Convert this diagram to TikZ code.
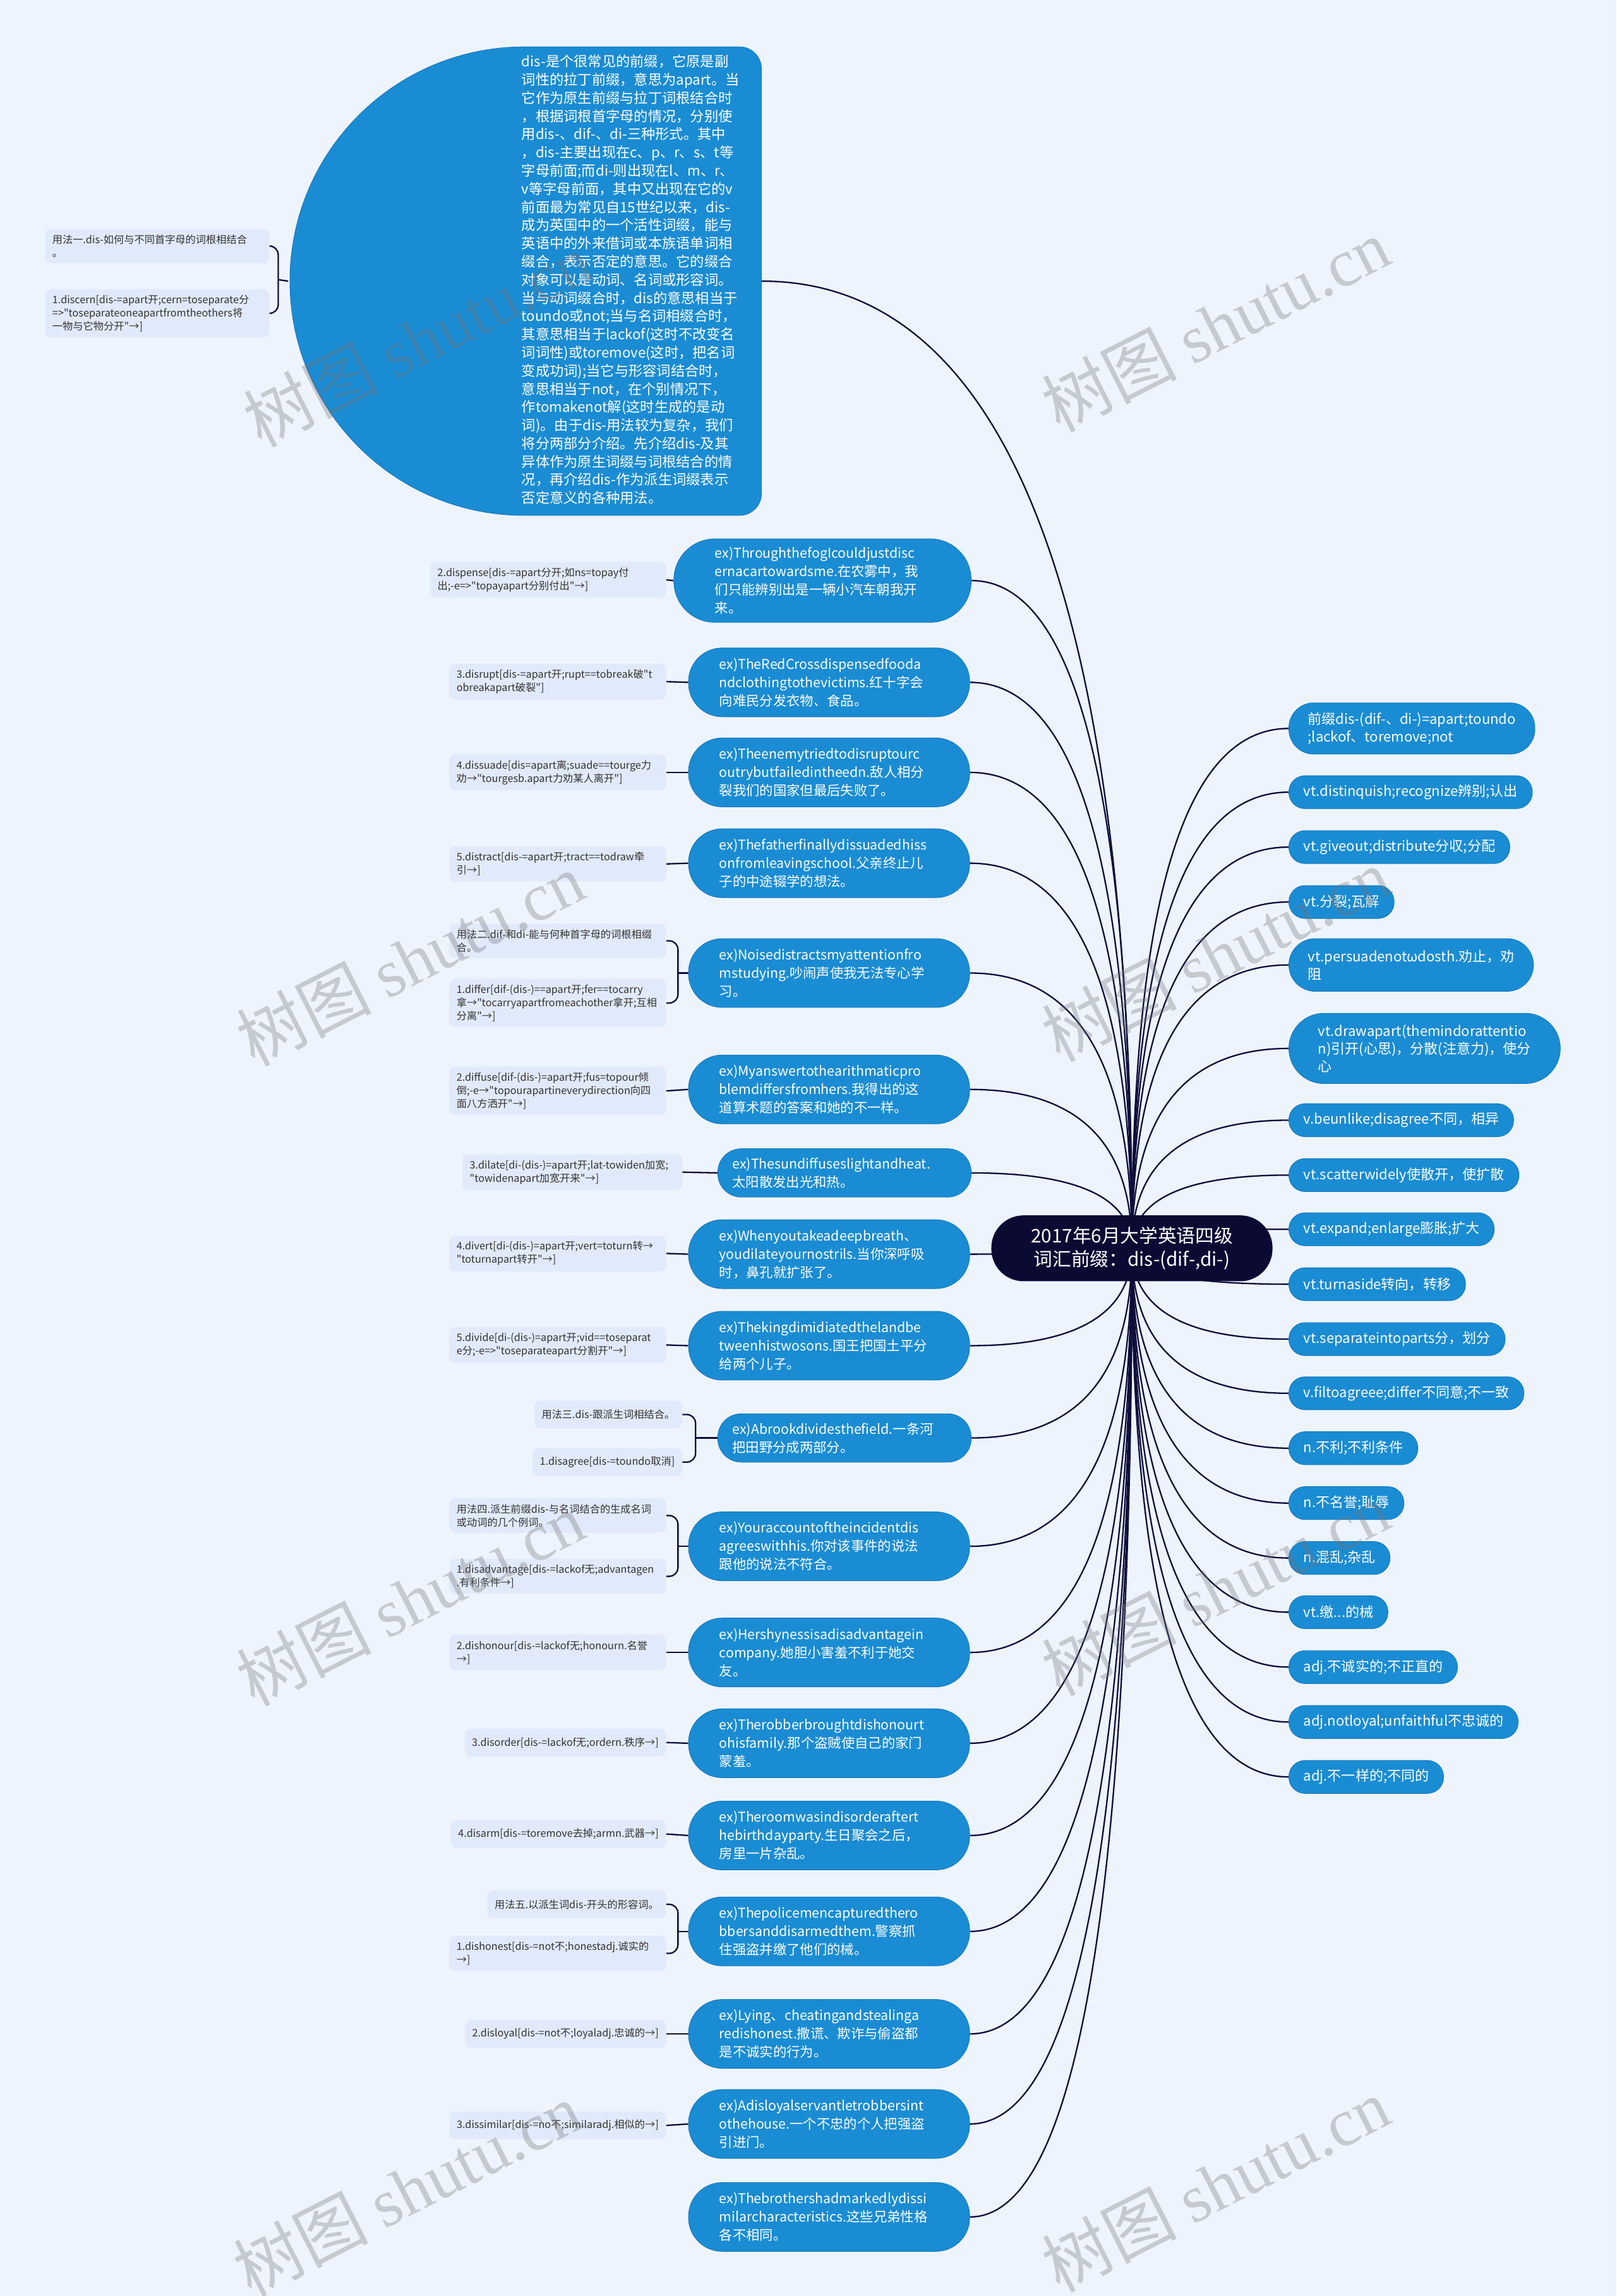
\documentclass[tikz,border=0pt]{standalone}
\usepackage{fontspec}
\setmainfont{Noto Sans CJK SC}
\setmonofont{Noto Sans CJK SC}
\newfontfamily\wmserif{Liberation Serif}
\usetikzlibrary{shapes.geometric,calc}
\hyphenpenalty=10000
\exhyphenpenalty=10000
\definecolor{bgcol}{HTML}{EEF4FE}
\definecolor{nodeblue}{HTML}{1A8CD3}
\definecolor{nodeborder}{HTML}{1479BD}
\definecolor{leafcol}{HTML}{E1EAFA}
\definecolor{leaftext}{HTML}{333333}
\definecolor{navy}{HTML}{0B0A33}
\definecolor{linecol}{HTML}{0E0E3A}
\newcommand\myfnt[2]{\ttfamily\fontsize{#1}{#2}\selectfont}
\newcommand\qconn[2]{\draw[conn] (#1) .. controls ($(#1)!0.667!(#1 |- #2)$) and ($(#2)!0.667!(#1 |- #2)$) .. (#2);}
\pgfdeclarelayer{back}
\pgfdeclarelayer{bg}
\pgfsetlayers{back,bg,main}
\begin{document}
\begin{tikzpicture}[x=1pt,y=-1pt,
  conn/.style={draw=linecol, line width=1pt},
  exbox/.style={fill=nodeblue, draw=nodeborder, line width=0.4pt, text=white, font=\myfnt{9.2}{12.5}, align=left, text width=150pt, inner xsep=21pt, inner ysep=0pt, minimum height=47pt, rounded corners=23pt, anchor=west},
  leafbox/.style={fill=leafcol, rounded corners=4pt, text=leaftext, font=\myfnt{7}{9}, align=left, inner xsep=5pt, inner ysep=4pt, minimum height=19pt, anchor=east},
  rbox/.style={fill=nodeblue, draw=nodeborder, line width=0.4pt, text=white, font=\myfnt{9.5}{12}, align=left, inner xsep=10pt, inner ysep=2pt, minimum height=22.5pt, rounded corners=11pt, anchor=west},
  wm/.style={text=black!55, text opacity=0.33, font=\myfnt{46}{46}, inner sep=0pt, rotate=27}
]
\useasboundingbox (0,0) rectangle (1104,1568);
\begin{pgfonlayer}{back}
\fill[bgcol] (0,0) rectangle (1104,1568);
\end{pgfonlayer}

% big description shape (round left side, square right side)
\node[minimum width=323pt, minimum height=320pt, inner sep=0pt] (E) at (358.5,192) {};
\filldraw[fill=nodeblue, draw=nodeborder, line width=0.4pt] (358,32) -- (505,32) arc[start angle=270, end angle=360, radius=15] -- (520,337) arc[start angle=0, end angle=90, radius=15] -- (358,352) arc[start angle=90, end angle=270, radius=160] -- cycle;
\node[font=\myfnt{9.6}{12.42}, text=white, align=left, text width=152pt, inner sep=0pt, anchor=west] (Et) at (356,191) {dis-是个很常见的前缀，它原是副\\词性的拉丁前缀，意思为apart。当\\它作为原生前缀与拉丁词根结合时\\，根据词根首字母的情况，分别使\\用dis-、dif-、di-三种形式。其中\\，dis-主要出现在c、p、r、s、t等\\字母前面;而di-则出现在l、m、r、\\v等字母前面，其中又出现在它的v\\前面最为常见自15世纪以来，dis-\\成为英国中的一个活性词缀，能与\\英语中的外来借词或本族语单词相\\缀合，表示否定的意思。它的缀合\\对象可以是动词、名词或形容词。\\当与动词缀合时，dis的意思相当于\\toundo或not;当与名词相缀合时，\\其意思相当于lackof(这时不改变名\\词词性)或toremove(这时，把名词\\变成功词);当它与形容词结合时，\\意思相当于not，在个别情况下，\\作tomakenot解(这时生成的是动\\词)。由于dis-用法较为复杂，我们\\将分两部分介绍。先介绍dis-及其\\异体作为原生词缀与词根结合的情\\况，再介绍dis-作为派生词缀表示\\否定意义的各种用法。};

% top-left leaves
\node[leafbox, text width=143pt] (T1) at (184,168) {用法一.dis-如何与不同首字母的词根相结合\\。};
\node[leafbox, text width=143pt] (T2) at (184,214) {1.discern[dis-=apart开;cern=toseparate分\\=>"toseparateoneapartfromtheothers将\\一物与它物分开"→]};

% center
\node[fill=navy, text=white, font=\myfnt{12.8}{16.2}, align=center, minimum width=192pt, minimum height=45pt, inner sep=0pt, rounded corners=22pt] (C) at (773,852.5) {2017年6月大学英语四级\\词汇前缀：dis-(dif-,di-)};

% example nodes
\node[exbox, text width=147pt, inner xsep=28pt, minimum height=57pt, rounded corners=28pt] (ex1) at (460,396.5) {ex)ThroughthefogIcouldjustdisc\\ernacartowardsme.在农雾中，我\\们只能辨别出是一辆小汽车朝我开\\来。};
\node[exbox] (ex2) at (470,466) {ex)TheRedCrossdispensedfooda\\ndclothingtothevictims.红十字会\\向难民分发衣物、食品。};
\node[exbox] (ex3) at (470,527.5) {ex)Theenemytriedtodisruptourc\\outrybutfailedintheedn.敌人相分\\裂我们的国家但最后失败了。};
\node[exbox] (ex4) at (470,589.5) {ex)Thefatherfinallydissuadedhiss\\onfromleavingschool.父亲终止儿\\子的中途辍学的想法。};
\node[exbox] (ex5) at (470,664.5) {ex)Noisedistractsmyattentionfro\\mstudying.吵闹声使我无法专心学\\习。};
\node[exbox] (ex6) at (470,744) {ex)Myanswertothearithmaticpro\\blemdiffersfromhers.我得出的这\\道算术题的答案和她的不一样。};
\node[exbox, text width=153pt, inner xsep=10pt, minimum height=33pt, rounded corners=16pt] (ex7) at (490,801) {ex)Thesundiffuseslightandheat.\\太阳散发出光和热。};
\node[exbox] (ex8) at (470,856.5) {ex)Whenyoutakeadeepbreath、\\youdilateyournostrils.当你深呼吸\\时，鼻孔就扩张了。};
\node[exbox] (ex9) at (470,919) {ex)Thekingdimidiatedthelandbe\\tweenhistwosons.国王把国土平分\\给两个儿子。};
\node[exbox, text width=153pt, inner xsep=10pt, minimum height=33pt, rounded corners=16pt] (ex10) at (490,982) {ex)Abrookdividesthefield.一条河\\把田野分成两部分。};
\node[exbox] (ex11) at (470,1056) {ex)Youraccountoftheincidentdis\\agreeswithhis.你对该事件的说法\\跟他的说法不符合。};
\node[exbox] (ex12) at (470,1128.5) {ex)Hershynessisadisadvantagein\\company.她胆小害羞不利于她交\\友。};
\node[exbox] (ex13) at (470,1190.5) {ex)Therobberbroughtdishonourt\\ohisfamily.那个盗贼使自己的家门\\蒙羞。};
\node[exbox] (ex14) at (470,1253.5) {ex)Theroomwasindisorderaftert\\hebirthdayparty.生日聚会之后，\\房里一片杂乱。};
\node[exbox] (ex15) at (470,1319) {ex)Thepolicemencapturedthero\\bbersanddisarmedthem.警察抓\\住强盗并缴了他们的械。};
\node[exbox] (ex16) at (470,1389) {ex)Lying、cheatingandstealinga\\redishonest.撒谎、欺诈与偷盗都\\是不诚实的行为。};
\node[exbox] (ex17) at (470,1450.5) {ex)Adisloyalservantletrobbersint\\othehouse.一个不忠的个人把强盗\\引进门。};
\node[exbox] (ex18) at (470,1514) {ex)Thebrothershadmarkedlydissi\\milarcharacteristics.这些兄弟性格\\各不相同。};

% leaves
\node[leafbox, text width=151pt] (L1) at (455,396) {2.dispense[dis-=apart分开;如ns=topay付\\出;-e=>"topayapart分别付出"→]};
\node[leafbox, text width=138pt] (L2) at (455,465.5) {3.disrupt[dis-=apart开;rupt==tobreak破"t\\obreakapart破裂"]};
\node[leafbox, text width=138pt] (L3) at (455,527.5) {4.dissuade[dis=apart离;suade==tourge力\\劝→"tourgesb.apart力劝某人离开"]};
\node[leafbox, text width=138pt] (L4) at (455,590) {5.distract[dis-=apart开;tract==todraw牵\\引→]};
\node[leafbox, text width=138pt] (L5a) at (455,642.5) {用法二.dif-和di-能与何种首字母的词根相缀\\合。};
\node[leafbox, text width=138pt] (L5b) at (455,685) {1.differ[dif-(dis-)==apart开;fer==tocarry\\拿→"tocarryapartfromeachother拿开;互相\\分离"→]};
\node[leafbox, text width=138pt] (L6) at (455,745) {2.diffuse[dif-(dis-)=apart开;fus=topour倾\\倒;-e→"topourapartineverydirection向四\\面八方洒开"→]};
\node[leafbox, text width=140pt] (L7) at (466,800.5) {3.dilate[di-(dis-)=apart开;lat-towiden加宽;\\"towidenapart加宽开来"→]};
\node[leafbox, text width=138pt] (L8) at (455,856) {4.divert[di-(dis-)=apart开;vert=toturn转→\\"toturnapart转开"→]};
\node[leafbox, text width=138pt] (L9) at (455,918.5) {5.divide[di-(dis-)=apart开;vid==toseparat\\e分;-e=>"toseparateapart分割开"→]};
\node[leafbox] (L10a) at (466,966) {用法三.dis-跟派生词相结合。};
\node[leafbox] (L10b) at (466,998.5) {1.disagree[dis-=toundo取消]};
\node[leafbox, text width=138pt] (L11a) at (455,1035) {用法四.派生前缀dis-与名词结合的生成名词\\或动词的几个例词。};
\node[leafbox, text width=138pt] (L11b) at (455,1076.5) {1.disadvantage[dis-=lackof无;advantagen\\.有利条件→]};
\node[leafbox, text width=138pt] (L12) at (455,1128.5) {2.dishonour[dis-=lackof无;honourn.名誉\\→]};
\node[leafbox] (L13) at (455,1190) {3.disorder[dis-=lackof无;ordern.秩序→]};
\node[leafbox] (L14) at (455,1252.5) {4.disarm[dis-=toremove去掉;armn.武器→]};
\node[leafbox] (L15a) at (455,1300.5) {用法五.以派生词dis-开头的形容词。};
\node[leafbox, text width=138pt] (L15b) at (455,1334) {1.dishonest[dis-=not不;honestadj.诚实的\\→]};
\node[leafbox] (L16) at (455,1389) {2.disloyal[dis-=not不;loyaladj.忠诚的→]};
\node[leafbox] (L17) at (455,1451.5) {3.dissimilar[dis-=no不;similaradj.相似的→]};

% right nodes
\node[rbox, inner xsep=13pt, minimum height=35pt, rounded corners=17pt] (R1) at (880,497.5) {前缀dis-(dif-、di-)=apart;toundo\\;lackof、toremove;not};
\node[rbox] (R2) at (880,541) {vt.distinquish;recognize辨别;认出};
\node[rbox] (R3) at (880,578.5) {vt.giveout;distribute分収;分配};
\node[rbox] (R4) at (880,616) {vt.分裂;瓦解};
\node[rbox, inner xsep=13pt, minimum height=36pt, rounded corners=18pt] (R5) at (880,659) {vt.persuadenotωdosth.劝止，劝\\阻};
\node[rbox, inner xsep=20pt, minimum height=48pt, rounded corners=24pt] (R6) at (880,716) {vt.drawapart(themindorattentio\\n)引开(心思)，分散(注意力)，使分\\心};
\node[rbox] (R7) at (880,765) {v.beunlike;disagree不同，相异};
\node[rbox] (R8) at (880,802.5) {vt.scatterwidely使散开，使扩散};
\node[rbox] (R9) at (880,839.5) {vt.expand;enlarge膨胀;扩大};
\node[rbox] (R10) at (880,877) {vt.turnaside转向，转移};
\node[rbox] (R11) at (880,914.5) {vt.separateintoparts分，划分};
\node[rbox] (R12) at (880,951.5) {v.filtoagreee;differ不同意;不一致};
\node[rbox] (R13) at (880,989) {n.不利;不利条件};
\node[rbox] (R14) at (880,1026.5) {n.不名誉;耻辱};
\node[rbox] (R15) at (880,1064) {n.混乱;杂乱};
\node[rbox] (R16) at (880,1101) {vt.缴...的械};
\node[rbox] (R17) at (880,1138.5) {adj.不诚实的;不正直的};
\node[rbox] (R18) at (880,1176) {adj.notloyal;unfaithful不忠诚的};
\node[rbox] (R19) at (880,1213.5) {adj.不一样的;不同的};

% bracket junctions
\coordinate (b0) at (190,191);
\coordinate (b5) at (463,664.5);
\coordinate (b10) at (475,982);
\coordinate (b11) at (463,1056);
\coordinate (b15) at (463,1319);

\begin{pgfonlayer}{bg}
\qconn{C.center}{E.east}
\foreach \k in {1,...,18} {\qconn{C.center}{ex\k.east}}
\foreach \k in {1,...,19} {\qconn{C.center}{R\k.west}}
\draw[conn, rounded corners=6pt] (T1.east) -| (b0) |- (T2.east);
\draw[conn] (b0) -- (E.west);
\draw[conn, rounded corners=6pt] (L5a.east) -| (b5) |- (L5b.east);
\draw[conn] (b5) -- (ex5.west);
\draw[conn, rounded corners=6pt] (L10a.east) -| (b10) |- (L10b.east);
\draw[conn] (b10) -- (ex10.west);
\draw[conn, rounded corners=6pt] (L11a.east) -| (b11) |- (L11b.east);
\draw[conn] (b11) -- (ex11.west);
\draw[conn, rounded corners=6pt] (L15a.east) -| (b15) |- (L15b.east);
\draw[conn] (b15) -- (ex15.west);
\draw[conn] (L1.east) -- (ex1.west);
\draw[conn] (L2.east) -- (ex2.west);
\draw[conn] (L3.east) -- (ex3.west);
\draw[conn] (L4.east) -- (ex4.west);
\draw[conn] (L6.east) -- (ex6.west);
\draw[conn] (L7.east) -- (ex7.west);
\draw[conn] (L8.east) -- (ex8.west);
\draw[conn] (L9.east) -- (ex9.west);
\draw[conn] (L12.east) -- (ex12.west);
\draw[conn] (L13.east) -- (ex13.west);
\draw[conn] (L14.east) -- (ex14.west);
\draw[conn] (L16.east) -- (ex16.west);
\draw[conn] (L17.east) -- (ex17.west);
\end{pgfonlayer}

% watermarks
\node[wm] (w1) at (285,232) {树图 {\wmserif shutu.cn}};
\node[wm] (w2) at (830,222) {树图 {\wmserif shutu.cn}};
\node[wm] (w3) at (280,655) {树图 {\wmserif shutu.cn}};
\node[wm] (w4) at (830,652) {树图 {\wmserif shutu.cn}};
\node[wm] (w5) at (280,1092) {树图 {\wmserif shutu.cn}};
\node[wm] (w6) at (830,1085) {树图 {\wmserif shutu.cn}};
\node[wm] (w7) at (278,1495) {树图 {\wmserif shutu.cn}};
\node[wm] (w8) at (830,1492) {树图 {\wmserif shutu.cn}};
\end{tikzpicture}
\end{document}
